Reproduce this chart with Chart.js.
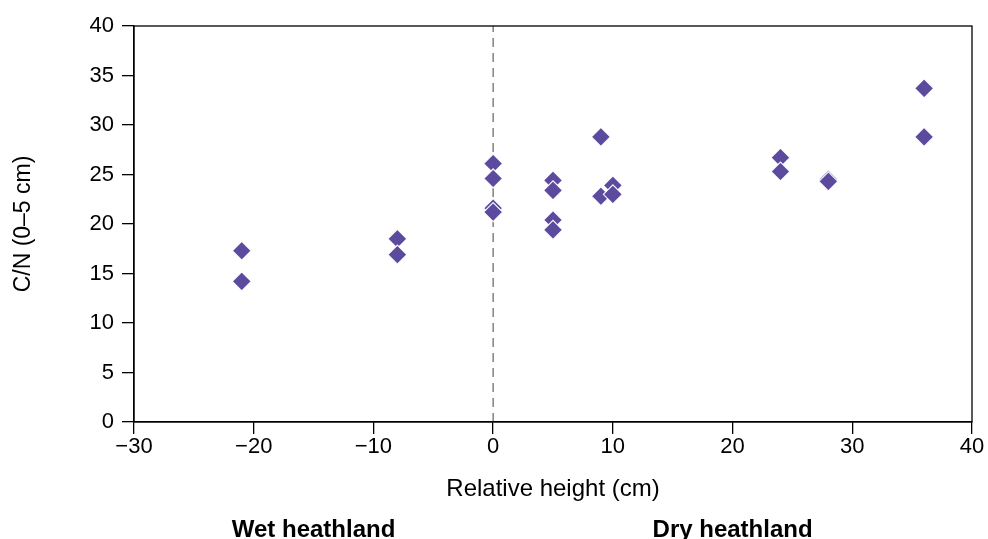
<!DOCTYPE html>
<html>
<head>
<meta charset="utf-8">
<script src="https://cdn.jsdelivr.net/npm/chart.js@4"></script>
<style>
  html,body{margin:0;padding:0;background:#fff;}
  #wrap{width:988px;height:539px;}
</style>
</head>
<body>
<div id="wrap"><canvas id="c" width="988" height="539"></canvas></div>
<script>
// relative height (cm) and C/N ratio
const relHeight = [-21,-21,-8,-8,0,0,0,0,5,5,5,5,9,9,10,10,24,24,28,28,36,36];
const cnRatio   = [17.3,14.2,18.5,16.9,26.1,24.6,21.6,21.2,24.4,23.4,20.4,19.4,28.8,22.8,23.9,23.0,26.7,25.3,24.5,24.3,33.7,28.8];
const refLineX  = [0,0];
const refLineY  = [0,40];
const xTicks = [-30,-20,-10,0,10,20,30,40];
const yTicks = [0,5,10,15,20,25,30,35,40];
const zoneLabels = ["Wet heathland","Dry heathland"];
const zoneCenters = [-15,20];   // in x-axis units

const FONT = "'Liberation Sans', Arial, sans-serif";
const pts = relHeight.map((x,i)=>({x, y:cnRatio[i]}));

// frame round the plot area + the two zone labels under the axis
const extras = {
  id:'extras',
  afterDraw(ch){
    const {ctx, chartArea:a, scales:{x}} = ch;
    ctx.save();
    ctx.strokeStyle='#000'; ctx.lineWidth=1.3;
    ctx.strokeRect(a.left, a.top, a.right-a.left, a.bottom-a.top);
    ctx.fillStyle='#000';
    ctx.font="bold 24px "+FONT;
    ctx.textAlign='center'; ctx.textBaseline='alphabetic';
    zoneLabels.forEach((t,i)=>ctx.fillText(t, x.getPixelForValue(zoneCenters[i]), 537));
    ctx.restore();
  }
};

new Chart(document.getElementById('c'), {
  type:'scatter',
  data:{datasets:[
    {
      data: refLineX.map((x,i)=>({x, y:refLineY[i]})),
      type:'line', showLine:true, pointRadius:0,
      borderColor:'#6e6e6e', borderWidth:1.3, borderDash:[9,6], order:2
    },
    {
      data: pts, pointStyle:'rectRot', pointRadius:9.5, pointHoverRadius:9.5,
      backgroundColor:'#5b4a9e', borderColor:'rgba(255,255,255,0.95)', borderWidth:1.2, order:1
    }
  ]},
  options:{
    responsive:false, animation:false,
    layout:{padding:{top:26,right:16,left:0,bottom:35}},
    plugins:{legend:{display:false}, tooltip:{enabled:false}},
    scales:{
      x:{
        type:'linear', min:-30, max:40,
        afterBuildTicks: s => { s.ticks = xTicks.map(v=>({value:v})); },
        afterFit: s => { s.height = 82; },
        grid:{drawOnChartArea:false, drawTicks:true, tickLength:12, color:'#000', lineWidth:1.3},
        border:{color:'#000', width:1.3},
        ticks:{color:'#000', font:{family:FONT, size:22}, padding:0,
               callback: v => (v<0 ? '\u2212'+Math.abs(v) : ''+v)},
        title:{display:true, text:'Relative height (cm)', color:'#000',
               font:{family:FONT, size:24}, padding:{top:0,bottom:0}}
      },
      y:{
        type:'linear', min:0, max:40,
        afterBuildTicks: s => { s.ticks = yTicks.map(v=>({value:v})); },
        afterFit: s => { s.width = 134; },
        grid:{drawOnChartArea:false, drawTicks:true, tickLength:12, color:'#000', lineWidth:1.3},
        border:{color:'#000', width:1.3},
        ticks:{color:'#000', font:{family:FONT, size:22}, padding:8},
        title:{display:true, text:'C/N (0\u20135 cm)', color:'#000',
               font:{family:FONT, size:23}, padding:{top:10,bottom:0}}
      }
    }
  },
  plugins:[extras]
});
</script>
</body>
</html>
